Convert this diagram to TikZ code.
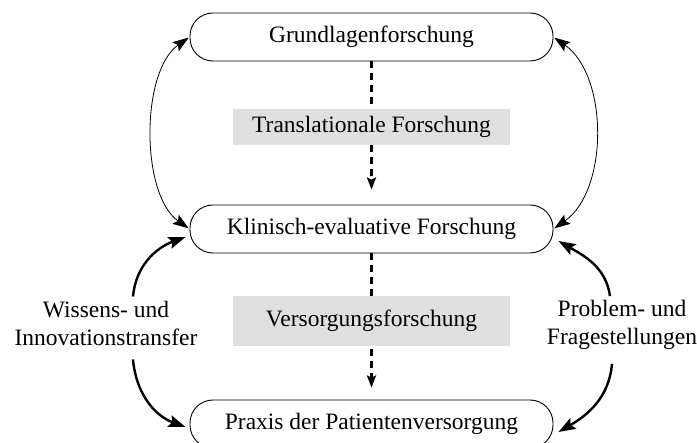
\documentclass[tikz,border=0pt]{standalone}
\usepackage{fontspec}
\setmainfont{Liberation Serif}
\usetikzlibrary{arrows.meta,calc}
\begin{document}
\begin{tikzpicture}[x=1pt,y=-1pt,
  font=\fontsize{23.5}{28}\selectfont,
  mainbox/.style={draw, line width=0.9pt, rounded corners=23pt, minimum width=363pt, minimum height=48pt, inner sep=0pt},
  graybox/.style={fill=black!12, minimum width=277pt, inner sep=0pt},
  lbl/.style={align=center, inner sep=0pt},
  thinarrow/.style={line width=0.8pt, {Stealth[length=16pt,width=11pt,inset=3pt]}-{Stealth[length=16pt,width=11pt,inset=3pt]}},
  thickarrow/.style={line width=2.4pt, -{Stealth[length=17pt,width=12pt,inset=3pt]}},
  dasharrow/.style={line width=2.3pt, dash pattern=on 7pt off 5pt, -{Stealth[length=12pt,width=9pt,inset=2pt]}}
]
\useasboundingbox (0,0) rectangle (697,443);
\node[mainbox] (g) at (371.5,37) {Grundlagenforschung};
\node[mainbox] (k) at (371.5,229) {Klinisch-evaluative Forschung};
\node[mainbox] (p) at (371.5,424) {Praxis der Patientenversorgung};

\draw[dasharrow, shorten >=15pt] (g.south) -- (k.north);
\draw[dasharrow, shorten >=12pt] (k.south) -- (p.north);

\node[graybox, minimum height=36pt] (t) at (371.5,127) {Translationale Forschung};
\node[graybox, minimum height=50pt] (v) at (371.5,321) {Versorgungsforschung};

\node[lbl] (wl) at (106,323) {Wissens- und\\Innovationstransfer};
\node[lbl] (pl) at (622,325) {Problem- und\\Fragestellungen};

\draw[thinarrow, shorten <=1pt, shorten >=1pt] (k.west) to[bend left=55, looseness=0.8] (g.west);
\draw[thinarrow, shorten <=1pt, shorten >=1pt] (k.east) to[bend right=55, looseness=0.9] (g.east);

\draw[thickarrow] ($(wl.north)+(27,-4)$) to[out=85, in=200] ($(k.west)+(-4,8)$);
\draw[thickarrow] ($(wl.south)+(27,14)$) to[out=-85, in=160] ($(p.west)+(-4,3)$);
\draw[thickarrow] ($(pl.north)+(-12,-4)$) to[out=98, in=-30] ($(k.east)+(5,12)$);
\draw[thickarrow] ($(pl.south)+(-10,14)$) to[out=-95, in=30] ($(p.east)+(5,8)$);
\end{tikzpicture}
\end{document}
